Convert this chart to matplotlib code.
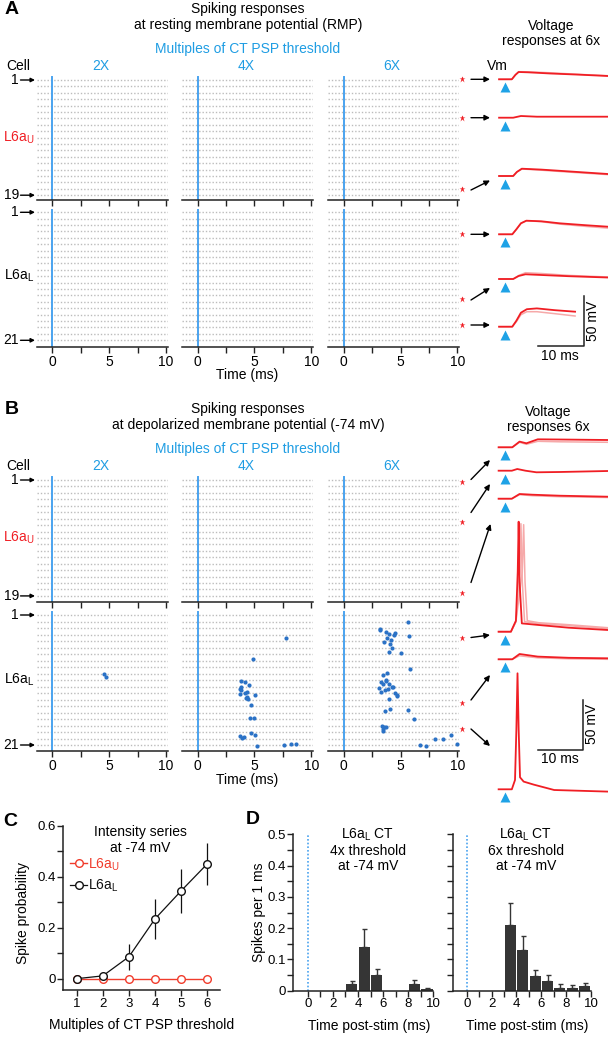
import matplotlib

matplotlib.use("Agg")
import matplotlib.pyplot as plt
from matplotlib.lines import Line2D
import numpy as np

plt.rcParams["font.family"] = ["Liberation Sans", "DejaVu Sans"]
plt.rcParams["mathtext.fontset"] = "custom"
plt.rcParams["mathtext.rm"] = "Liberation Sans"
plt.rcParams["mathtext.it"] = "Liberation Sans:italic"

# ---- data ----
COLUMNS = ["2X", "4X", "6X"]
N_UPPER, N_LOWER = 19, 21

# panel B, L6aL rasters: spike time (ms) and cell row
B2X_T = [4.52, 4.72]
B2X_R = [10.1, 10.6]
B4X_T = [7.76, 4.91, 3.85, 4.15, 4.50, 3.79, 3.70, 3.85, 4.32, 4.15, 3.70, 5.03, 4.32, 4.41,
         4.26, 4.68, 4.62, 4.94, 4.71, 5.03, 3.76, 3.94, 4.12, 5.23, 7.59, 8.19, 8.68]
B4X_R = [4.6, 7.8, 11.1, 11.3, 11.8, 12.1, 12.4, 12.6, 12.8, 13.0, 13.2, 13.3, 13.6, 13.9,
         13.8, 14.8, 16.9, 16.8, 19.2, 19.4, 19.6, 19.9, 19.8, 21.2, 21.0, 20.8, 20.9]
B6X_T = [5.68, 3.15, 3.21, 3.75, 3.99, 4.49, 4.38, 5.74, 3.78, 4.14, 3.51, 4.05, 4.29, 3.96,
         5.06, 5.86, 3.84, 3.42, 3.69, 3.69, 3.30, 3.48, 3.99, 4.35, 4.23, 3.13, 3.87, 3.63,
         3.27, 4.49, 4.73, 4.73, 3.99, 4.08, 3.63, 5.65, 6.19, 3.36, 3.57, 3.69, 3.48, 3.42,
         8.07, 8.72, 9.43, 6.70, 7.20, 9.97]
B6X_R = [2.1, 3.2, 3.3, 3.55, 3.96, 3.76, 4.06, 4.3, 4.6, 4.9, 5.1, 5.5, 6.15, 6.7,
         6.9, 9.3, 9.9, 10.3, 10.95, 11.1, 11.25, 11.6, 11.55, 12.1, 12.0, 12.3, 12.4, 12.6,
         12.8, 13.0, 13.3, 13.5, 13.9, 15.4, 15.8, 15.6, 17.0, 18.0, 18.2, 18.3, 18.6, 18.8,
         20.0, 20.1, 19.5, 21.0, 21.2, 20.8]

# voltage responses at 6x: time (ms from stim) and Vm change (mV); light = single trial
A_TRACES = [
    ([-1.3, 1.5, 2.3, 3.0, 5.0, 10.0, 16.0, 22.6], [0, 0, 4.5, 7.3, 7.0, 5.8, 4.7, 3.3],
     [0, 0, 4.5, 7.6, 7.5, 6.5, 5.0, 3.6]),
    ([-1.3, 1.8, 3.5, 7.0, 22.6], [0, 0, 1.7, 1.0, 1.0], None),
    ([-1.3, 1.8, 2.6, 3.7, 8.0, 15.0, 22.6], [0, 0, 4.0, 7.3, 6.4, 4.3, 2.0],
     [0, 0, 4.0, 7.0, 5.8, 3.6, 1.4]),
    ([-1.3, 1.6, 2.5, 3.5, 4.7, 8.0, 12.0, 18.0, 22.6], [0, 0, 5.0, 11.0, 13.6, 13.0, 11.0, 9.0, 7.6],
     [0, 0, 5.0, 11.0, 13.6, 12.6, 10.2, 7.8, 6.2]),
    ([-1.3, 1.8, 3.0, 4.5, 8.0, 14.0, 22.6], [0, 0, 3.0, 4.7, 4.0, 2.8, 1.5],
     [0, 0, 3.5, 6.3, 5.5, 3.6, 2.0]),
    ([-1.3, 1.6, 2.5, 3.5, 4.8, 7.0, 11.0, 15.4], [0, 0, 6.0, 14.0, 17.5, 18.3, 16.5, 15.0],
     [0, 0, 5.0, 12.0, 15.0, 15.0, 13.0, 10.7]),
]
B_TRACES = [
    ([-1.4, 1.6, 3.2, 4.7, 7.2, 12.0, 22.6], [0, 0, 5.7, 4.0, 8.0, 7.8, 7.3],
     [0, 0, 5.0, 3.0, 6.0, 5.5, 5.0]),
    ([-1.4, 1.5, 2.7, 4.5, 6.9, 12.0, 22.6], [0, 0, 1.7, 0, -1.6, -1.3, -0.3], None),
    ([-1.4, 1.5, 3.2, 6.0, 12.0, 22.6], [0, 0, 4.7, 4.0, 3.0, 2.0],
     [0, 0, 4.0, 3.0, 2.0, 1.2]),
    ([-1.4, 1.3, 2.4, 2.8, 3.0, 3.2, 3.7, 7.4, 14.0, 22.6], [0, 0, 11, 60, 110, 50, 8.3, 6.7, 4.0, 1.7],
     None),
    ([-1.4, 1.6, 3.2, 7.2, 14.0, 22.6], [0, 0, 5.3, 2.7, 1.5, 1.0],
     [0, 0, 3.5, 1.5, 0.5, 0.0]),
    ([-1.4, 1.5, 2.2, 2.5, 2.75, 3.0, 3.3, 4.1, 6.3, 10.8, 22.6],
     [0, 0, 9.3, 60, 116, 60, 12, 7.7, 4.7, -0.7, -2.3], None),
]
# extra single trials of the spiking cell in B (later spikes)
B4_TRIALS = [
    ([-1.4, 1.3, 2.4, 3.2, 3.5, 3.8, 4.3, 7.4, 14.0, 22.6], [0, 0, 10, 60, 108, 50, 10, 8, 6, 3]),
    ([-1.4, 1.3, 2.4, 3.8, 4.1, 4.4, 4.9, 7.4, 14.0, 22.6], [0, 0, 10, 60, 107, 50, 11, 9, 7, 4]),
]

# panel C: spike probability vs intensity
MULTIPLES = [1, 2, 3, 4, 5, 6]
P_UPPER = [0, 0, 0, 0, 0, 0]
P_LOWER = [0, 0.011, 0.086, 0.235, 0.345, 0.451]
P_LOWER_ERR = [0, 0.01, 0.05, 0.078, 0.087, 0.082]

# panel D: PSTH, 1 ms bins
BIN_CENTERS = [0.5, 1.5, 2.5, 3.5, 4.5, 5.5, 6.5, 7.5, 8.5, 9.5]
PSTH_4X = [0, 0, 0, 0.020, 0.140, 0.050, 0, 0, 0.020, 0.006]
PSTH_4X_ERR = [0, 0, 0, 0.012, 0.056, 0.020, 0, 0, 0.013, 0.004]
PSTH_6X = [0, 0, 0, 0.210, 0.129, 0.048, 0.030, 0.010, 0.010, 0.015]
PSTH_6X_ERR = [0, 0, 0, 0.069, 0.046, 0.019, 0.021, 0.010, 0.008, 0.011]

# ---- styling / layout (pixels of the 608x1037 canvas) ----
W, H = 608, 1037
RED, LIGHT = "#f01e24", "#f6a9a9"
BLUE_TXT, STIM, SPIKE, TRI = "#1f9de3", "#4aa3ef", "#2b72c6", "#1ea2e6"
GRID, DARK = "#bcbcbc", "#222222"
FS = 10
FS_TICK = 9.5

RASTER_X0 = [52.5, 197.7, 343.8]
PX_MS = 11.35
R_XLIM = (-1.4, 10.15)
VM_X0, VM_PX_MS = 505, 4.55

fig = plt.figure(figsize=(W / 100, H / 100), dpi=100)


def _rect(x0, y0, x1, y1):
    return [x0 / W, 1 - y1 / H, (x1 - x0) / W, (y1 - y0) / H]


def _raster(x0, row1, step, n, axis_y, times=(), rows=(), labels=False):
    left, right = x0 + R_XLIM[0] * PX_MS, x0 + R_XLIM[1] * PX_MS
    ax = fig.add_axes(_rect(left, row1 - 0.7 * step, right, axis_y))
    y_bot = 1 + (axis_y - row1) / step
    ax.set_xlim(*R_XLIM); ax.set_ylim(y_bot, 0.3)
    for r in range(1, n + 1):
        ax.plot(R_XLIM, [r, r], color=GRID, lw=1.0, ls=(0, (1, 1.4)))
    ax.plot([0, 0], [0.6, y_bot], color=STIM, lw=1.4)
    if len(times):
        ax.plot(times, rows, "o", ms=3.0, color=SPIKE, mec="none", zorder=4, clip_on=False)
    for s in ("left", "top", "right"):
        ax.spines[s].set_visible(False)
    ax.spines["bottom"].set_linewidth(1.1); ax.spines["bottom"].set_color(DARK)
    ax.set_yticks([])
    ax.set_xticks([0, 2.5, 5, 7.5, 10])
    ax.set_xticklabels(["0", "", "5", "", "10"] if labels else [])
    ax.tick_params(axis="x", direction="out", length=4, width=1, pad=2, labelsize=FS, color=DARK)
    ax.patch.set_alpha(0)
    return ax


def _vm_axes(y0, y1):
    ax = fig.add_axes(_rect(480, y0, 608, y1))
    ax.set_xlim((480 - VM_X0) / VM_PX_MS, (608 - VM_X0) / VM_PX_MS)
    ax.set_ylim(-y1, -y0)
    ax.axis("off")
    return ax


def _traces(ax, traces, offsets):
    for (t, v, light), off in zip(traces, offsets):
        if light is not None:
            ax.plot(t, off + np.asarray(light), color=LIGHT, lw=1.1)
        ax.plot(t, off + np.asarray(v), color=RED, lw=1.3)
        ax.plot(0, off - 8, marker="^", ms=6.5, color=TRI, mec="none")


def _scalebar(ax, t0, y0):
    ax.plot([t0, t0 + 10, t0 + 10], [y0, y0, y0 + 50], color=DARK, lw=1.1)


# ---- raster panels ----
blocks = {
    "A": dict(top=(80, 6.4, 199.5), bot=(212.3, 6.4, 346.5), spikes=None),
    "B": dict(top=(480, 6.44, 602), bot=(615, 6.5, 751),
              spikes=[(B2X_T, B2X_R), (B4X_T, B4X_R), (B6X_T, B6X_R)]),
}
for key, blk in blocks.items():
    for j, x0 in enumerate(RASTER_X0):
        _raster(x0, blk["top"][0], blk["top"][1], N_UPPER, blk["top"][2])
        t, r = blk["spikes"][j] if blk["spikes"] else ((), ())
        _raster(x0, blk["bot"][0], blk["bot"][1], N_LOWER, blk["bot"][2], t, r, labels=True)

# ---- voltage traces ----
A_OFF = [-79.3, -117.7, -176, -234.3, -279, -326.7]
B_OFF = [-447.3, -470.7, -498.7, -631.7, -659.3, -789.3]
axva = _vm_axes(55, 365)
_traces(axva, A_TRACES, A_OFF)
_scalebar(axva, (538.3 - VM_X0) / VM_PX_MS, -346)
axvb = _vm_axes(400, 810)
for t, v in B4_TRIALS:
    axvb.plot(t, B_OFF[3] + np.asarray(v), color=LIGHT, lw=1.1)
_traces(axvb, B_TRACES, B_OFF)
_scalebar(axvb, (537.7 - VM_X0) / VM_PX_MS, -750)

# ---- panel C ----
axc = fig.add_axes(_rect(63.3, 826, 220, 990))
axc.plot(MULTIPLES, P_UPPER, "-o", color="#f03c2c", mfc="white", ms=5.5, lw=1.0, mew=1.0,
         clip_on=False, zorder=3)
axc.errorbar(MULTIPLES, P_LOWER, yerr=P_LOWER_ERR, fmt="-o", color="#111111", mfc="white",
             ms=5.5, lw=0.9, mew=1.0, elinewidth=0.9, capsize=0, clip_on=False, zorder=4)
axc.set_xlim(0.487, 6.49); axc.set_ylim(-0.0445, 0.6)
axc.set_xticks(MULTIPLES)
axc.set_yticks([0, 0.2, 0.4, 0.6]); axc.set_yticklabels(["0", "0.2", "0.4", "0.6"])
axc.set_yticks([0.1, 0.3, 0.5], minor=True)
leg_h = [Line2D([], [], color="#f03c2c", marker="o", mfc="white", ms=5.5, lw=1.0),
         Line2D([], [], color="#111111", marker="o", mfc="white", ms=5.5, lw=0.9)]
axc.legend(leg_h, [r"L6a$_\mathrm{U}$", r"L6a$_\mathrm{L}$"], loc="upper left",
           bbox_to_anchor=(0.045, 0.815), frameon=False, handlelength=1.2, handletextpad=0.1,
           labelspacing=0.35, borderaxespad=0, borderpad=0, fontsize=FS,
           labelcolor=["#f03c2c", "#111111"])

# ---- panel D ----
axd1 = fig.add_axes(_rect(293.3, 834.3, 433.3, 990.7))
axd2 = fig.add_axes(_rect(452.7, 834.3, 591, 990.7))
for ax, h, e, xl in ((axd1, PSTH_4X, PSTH_4X_ERR, -1.15), (axd2, PSTH_6X, PSTH_6X_ERR, -1.13)):
    h, e, c = np.asarray(h), np.asarray(e), np.asarray(BIN_CENTERS)
    ax.bar(c, h, width=0.88, color="#353535", zorder=2)
    m = e > 0
    ax.errorbar(c[m], h[m], yerr=[np.zeros(m.sum()), e[m]], fmt="none", ecolor="#353535",
                elinewidth=1.0, capsize=1.8, capthick=1.0, zorder=2)
    ax.plot([0, 0], [0, 0.5], color=STIM, lw=1.2, ls=(0, (1, 1.2)))
    ax.set_xlim(xl, 10); ax.set_ylim(0, 0.5)
    ax.set_xticks([0, 2, 4, 6, 8, 10]); ax.set_xticks([1, 3, 5, 7, 9], minor=True)
    ax.set_yticks([0, 0.1, 0.2, 0.3, 0.4, 0.5])
    ax.set_yticks([0.05, 0.15, 0.25, 0.35, 0.45], minor=True)
axd1.set_yticklabels(["0", "0.1", "0.2", "0.3", "0.4", "0.5"])
axd2.set_yticklabels([])

for ax in (axc, axd1, axd2):
    for s in ("top", "right"):
        ax.spines[s].set_visible(False)
    for s in ("left", "bottom"):
        ax.spines[s].set_linewidth(1.1); ax.spines[s].set_color(DARK)
    ax.tick_params(which="both", direction="out", length=4, width=1, pad=1.5, labelsize=FS_TICK,
                   color=DARK)
    ax.patch.set_alpha(0)

# ---- overlay: text, row markers, arrows ----
ov = fig.add_axes([0, 0, 1, 1])
ov.set_xlim(0, W); ov.set_ylim(H, 0); ov.axis("off")


def _arrow(p0, p1, ms=8):
    ov.annotate("", xy=p1, xytext=p0,
                arrowprops=dict(arrowstyle="-|>", color="k", lw=1.0, shrinkA=0, shrinkB=0,
                                mutation_scale=ms))


def _txt(x, y, s, **kw):
    kw.setdefault("fontsize", FS)
    kw.setdefault("ha", "center")
    kw.setdefault("va", "center")
    ov.text(x, y, s, **kw)


for key, blk, title2 in (("A", blocks["A"], "at resting membrane potential (RMP)"),
                         ("B", blocks["B"], "at depolarized membrane potential (-74 mV)")):
    r1 = blk["top"][0]
    _txt(12, r1 - 70, key, fontsize=14, fontweight="bold")
    _txt(248, r1 - 71, "Spiking responses")
    _txt(248, r1 - 54.5, title2)
    _txt(248, r1 - 31, "Multiples of CT PSP threshold", color=BLUE_TXT)
    _txt(18, r1 - 14, "Cell")
    for j, x0 in enumerate(RASTER_X0):
        _txt(x0 + 48, r1 - 14, COLUMNS[j], color=BLUE_TXT)
    for (row1, step, axis_y), n, lab, col in ((blk["top"], N_UPPER, r"L6a$_\mathrm{U}$", RED),
                                              (blk["bot"], N_LOWER, r"L6a$_\mathrm{L}$", "k")):
        for num, yy in (("1", row1), (str(n), row1 + (n - 1) * step)):
            _txt(19, yy, num, ha="right")
            _arrow((20.5, yy), (35, yy), ms=6)
        _txt(19, row1 + (n - 1) * step / 2, lab, color=col)
    _txt(247, blk["bot"][2] + 29, "Time (ms)")

# voltage column labels
_txt(551, 25.7, "Voltage")
_txt(551, 41, "responses at 6x")
_txt(497, 66, "Vm")
_txt(548, 412, "Voltage")
_txt(548, 427, "responses 6x")
_txt(560, 356, "10 ms")
_txt(593, 321, "50 mV", rotation=90)
_txt(560, 759, "10 ms")
_txt(592, 724, "50 mV", rotation=90)

# asterisks + arrows to example traces
A_STARS = [79.3, 117.7, 189, 234.3, 299, 325]
A_ARROWS = [((471, 79.3), (490, 79.3)), ((471, 117.7), (490, 117.7)), ((471, 190), (490, 180.5)),
            ((471, 234.3), (490, 234.3)), ((471, 300), (490, 288)), ((471, 325), (490, 325))]
B_STARS = [482, 522, 593, 638, 703, 729]
B_ARROWS = [((471, 479.5), (490, 460)), ((471, 512.5), (490, 484)), ((471, 582.5), (490.5, 524)),
            ((471, 637.5), (490, 635)), ((471, 700), (490, 675)), ((471, 729), (490, 746))]
for stars, arrows in ((A_STARS, A_ARROWS), (B_STARS, B_ARROWS)):
    for y in stars:
        ov.plot(462, y, marker="*", ms=4.5, color=RED, mec="none")
    for p0, p1 in arrows:
        _arrow(p0, p1)

# panel C / D labels
_txt(10, 822, "C", fontsize=14, fontweight="bold")
_txt(140, 832, "Intensity series")
_txt(140, 848, "at -74 mV")
_txt(23, 913, "Spike probability", rotation=90)
_txt(142, 1025, "Multiples of CT PSP threshold")
_txt(253, 820, "D", fontsize=14, fontweight="bold")
for xc, mult in ((368, "4x"), (526, "6x")):
    _txt(xc, 835, r"L6a$_\mathrm{L}$ CT")
    _txt(xc, 851, mult + " threshold")
    _txt(xc, 866.5, "at -74 mV")
_txt(259, 912, "Spikes per 1 ms", rotation=90)
_txt(369, 1026, "Time post-stim (ms)")
_txt(527, 1026, "Time post-stim (ms)")

fig.savefig("out.png", dpi=100)
